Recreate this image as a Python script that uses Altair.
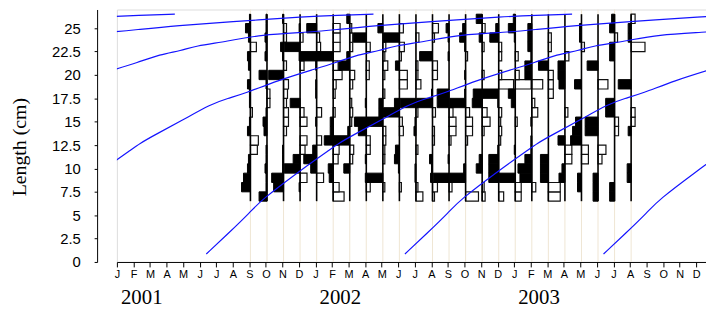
import altair as alt
import pandas as pd

# ---------------- data ----------------
MONTH_LETTERS = ["J", "F", "M", "A", "M", "J", "J", "A", "S", "O", "N", "D"]
YEARS = ["2001", "2002", "2003"]
YEAR_LABEL_POS = [1.5, 13.5, 25.5]          # month index (Jan 2001 = 0)
Y_TICKS = [0, 2.5, 5, 7.5, 10, 12.5, 15, 17.5, 20, 22.5, 25]

SAMPLE_DATES = [
    "2001-09-03", "2001-10-03", "2001-11-03", "2001-12-03",
    "2002-01-03", "2002-02-03", "2002-03-03", "2002-04-03",
    "2002-05-03", "2002-06-03", "2002-07-03", "2002-08-03",
    "2002-09-03", "2002-10-03", "2002-11-03", "2002-12-03",
    "2003-01-03", "2003-02-03", "2003-03-03", "2003-04-03",
    "2003-05-03", "2003-06-03", "2003-07-03", "2003-08-03",
]

# lower edges of the 1-cm length classes (bottom to top)
BIN_LOW = [6.5, 7.5, 8.5, 9.5, 10.5, 11.5, 12.5, 13.5, 14.5, 15.5,
           16.5, 17.5, 18.5, 19.5, 20.5, 21.5, 22.5, 23.5, 24.5, 25.5]

# restructured scores per sample (bottom class first); + = black peak, - = white trough
sep01 = [0, 9, 7, 3, 2, -7, -8, 3, 1, -2, 1, 1, 3, 0, 2, 3, -6, 2, 5, 1]
oct01 = [8, 1, 1, 2, 1, 1, 0, 3, 4, 1, -3, -3, 1, 8, 0, 2, 1, 2, 1, 1]
nov01 = [0, 10, 12, 1, 1, 1, 0, -3, -5, -5, -3, -4, -5, 15, -3, 1, 3, -3, -3, 1]
dec01 = [0, 1, -7, 16, 7, -5, -7, 0, -7, -4, 10, 0, 0, 0, -4, 1, 16, -3, 1, 0]
jan02 = [0, 0, -7, 6, 13, 4, -5, 0, 1, -5, 0, 1, 1, 0, 1, 17, -4, -3, 10, 0]
feb02 = [-11, -6, 4, 5, -5, -6, 9, 3, 3, -2, 0, -2, -3, -9, -5, 17, -7, -7, -7, 0]
mar02 = [0, 0, 0, 6, -3, -4, 16, 2, -2, -3, -2, 0, -3, -5, 11, 3, -3, -3, -2, 3]
apr02 = [0, -4, 1, 0, 1, -4, -4, 8, 12, 0, 1, 0, 0, -3, -3, 0, -4, 13, 0, 0]
may02 = [0, -2, 16, 0, -2, -2, -3, -3, 16, 4, 4, -2, 0, -2, -5, -2, -3, 0, 5, 0]
jun02 = [0, -2, 0, 1, 5, 4, 0, -4, -3, 16, 5, 0, -8, -8, 4, -2, -5, 16, -4, 0]
jul02 = [-7, -2, 1, 1, 0, -2, 0, 2, 1, -2, 16, 0, -5, -2, -2, 0, 0, -3, 0, 0]
aug02 = [-2, -5, 2, 1, 3, 0, -2, -2, 0, -3, 16, 1, 0, -5, -5, 13, 0, -2, -6, 0]
sep02 = [0, -3, 16, 0, 1, 0, -2, -7, -7, -4, 12, 12, 0, 0, 0, 1, 0, 1, 3, 0]
oct02 = [-13, 0, 16, 2, 0, 0, -2, -7, -7, -4, 16, 1, 0, 1, 0, -2, 1, 6, 3, 0]
nov02 = [-3, -2, 0, 6, 3, 0, 0, -2, -8, -5, 10, 9, 0, -2, 0, 0, -2, 3, -3, 6]
dec02 = [-5, 0, 10, 10, 10, 1, -2, -3, -2, -3, 1, 16, -15, -3, 0, -3, -3, 9, 3, 0]
jan03 = [-6, -6, 16, 0, 0, 1, 0, 0, -2, 0, 4, 7, -16, -4, 0, -3, 0, 1, 7, 2]
feb03 = [0, -4, 12, 14, 7, 1, 1, 0, 1, -6, -3, 0, -11, 7, 7, 1, 4, 4, 4, 0]
mar03 = [-12, -12, 8, 8, 8, 0, 0, 0, 0, 0, 0, -5, -5, -5, 10, 0, -3, -3, 0, 0]
apr03 = [0, 0, 6, 3, -7, -7, 7, 0, 0, -3, 0, 0, 6, 7, 7, -4, 0, 0, 0, 0]
may03 = [0, 4, 4, 0, -7, -7, 11, 9, 6, 0, 0, 0, 7, 0, 0, 0, -3, 2, 2, 0]
jun03 = [5, 5, 5, 0, -4, -8, 0, 13, 13, 0, 0, 0, -10, 0, 11, 0, 0, 0, 0, 0]
jul03 = [5, 5, 0, 0, 0, 0, 0, -4, -4, 9, 9, 0, 0, 0, 0, 5, 5, -3, 5, 3]
aug03 = [0, 0, 4, 4, 0, 0, 0, 3, -4, -4, 0, 0, 13, 0, 0, 0, -14, 3, 3, -4]

SCORES = [sep01, oct01, nov01, dec01, jan02, feb02, mar02, apr02,
          may02, jun02, jul02, aug02, sep02, oct02, nov02, dec02,
          jan03, feb03, mar03, apr03, may03, jun03, jul03, aug03]

# growth curve: age (months) -> length (cm)
CURVE_AGE = [0, 1.3, 2.7, 3.3, 5.7, 6.65, 7.3, 8.0, 8.9, 10.5, 12.3, 13.3, 14.3,
             16.3, 18.5, 19.8, 21.2, 22.5, 23.3, 25.3, 27.2, 30.5, 31.8, 34.3,
             37.3, 42.2, 43.8, 46.1]
CURVE_LEN = [0.85, 3.0, 5.4, 6.6, 9.8, 11.0, 11.8, 12.7, 13.6, 15.1, 16.9, 17.5,
             18.0, 19.4, 20.6, 21.3, 22.2, 22.6, 23.1, 23.6, 24.3, 24.6, 24.85,
             25.3, 25.66, 26.26, 26.37, 26.5]
# month index at which each cohort's curve starts (Jan 2001 = 0)
COHORT_START = [-42.6, -30.6, -18.6, -6.6, 5.4, 17.4, 29.4]

# ---------------- build tables ----------------
BAR_UNIT = 1 / 16.72   # score unit expressed in months of the time axis
X_MAX = 35.59
Y_MAX = 27


def month_index(s):
    d = pd.Timestamp(s)
    return (d.year - 2001) * 12 + (d.month - 1) + (d.day - 1) / 30.0


samples = pd.DataFrame({"date": SAMPLE_DATES})
samples["t"] = samples["date"].map(month_index)
samples["lo"] = BIN_LOW[0]
samples["hi"] = BIN_LOW[-1] + 1
samples["zero"] = 0
samples["top"] = Y_MAX

rows = []
for date, scores in zip(SAMPLE_DATES, SCORES):
    t = month_index(date)
    for low, v in zip(BIN_LOW, scores):
        if v == 0:
            continue
        if v > 0:
            rows.append({"x": t - v * BAR_UNIT, "x2": t, "y": low, "y2": low + 1, "kind": "peak"})
        else:
            rows.append({"x": t, "x2": t - v * BAR_UNIT, "y": low, "y2": low + 1, "kind": "trough"})
bars = pd.DataFrame(rows)

crows = []
for c, start in enumerate(COHORT_START):
    for a, L in zip(CURVE_AGE, CURVE_LEN):
        crows.append({"cohort": c, "t": start + a, "L": L})
curves = pd.DataFrame(crows)

years = pd.DataFrame({"year": YEARS, "t": YEAR_LABEL_POS})
ytitle = pd.DataFrame({"label": ["Length (cm)"]})

# ---------------- chart ----------------
label_array = "[" + ",".join("'" + m + "'" for m in MONTH_LETTERS) + "]"

x_scale = alt.Scale(domain=[0, X_MAX], nice=False, zero=False)
y_scale = alt.Scale(domain=[0, Y_MAX], nice=False)

x_axis = alt.Axis(values=list(range(36)), labelExpr=f"{label_array}[datum.value % 12]",
                  title=None, grid=False, tickSize=5, labelOverlap=False,
                  labelFontSize=11, labelPadding=2, labelFlush=False)
y_axis = alt.Axis(values=Y_TICKS, labelExpr="datum.value + ''", title=None, grid=False,
                  offset=20, tickSize=3, labelOverlap=False, labelFontSize=15,
                  labelPadding=14)

X = lambda f: alt.X(f, scale=x_scale, axis=x_axis)
Y = lambda f: alt.Y(f, scale=y_scale, axis=y_axis)

guides = alt.Chart(samples).mark_rule(color="#efe6d3", strokeWidth=1).encode(
    x=X("t:Q"), y=Y("zero:Q"), y2="top:Q")

troughs = alt.Chart(bars).transform_filter(alt.datum.kind == "trough").mark_rect(
    fill="white", stroke="#111111", strokeWidth=1.2).encode(
    x=X("x:Q"), x2="x2:Q", y=Y("y:Q"), y2="y2:Q")

peaks = alt.Chart(bars).transform_filter(alt.datum.kind == "peak").mark_rect(
    fill="black", stroke="black", strokeWidth=1).encode(
    x=X("x:Q"), x2="x2:Q", y=Y("y:Q"), y2="y2:Q")

baselines = alt.Chart(samples).mark_rule(color="black", strokeWidth=1.6).encode(
    x=X("t:Q"), y=Y("lo:Q"), y2="hi:Q")

growth = alt.Chart(curves).mark_line(color="#1414ff", strokeWidth=1.2, clip=True,
                                     interpolate="basis").encode(
    x=X("t:Q"), y=Y("L:Q"), detail="cohort:N", order="t:Q")

year_text = alt.Chart(years).mark_text(font="Liberation Serif", fontSize=21, color="black",
                                       baseline="alphabetic", align="center").encode(
    x=X("t:Q"), y=alt.value(297), text="year:N")

title_text = alt.Chart(ytitle).mark_text(font="Liberation Serif", fontSize=20, color="black",
                                         angle=270, baseline="middle", align="center").encode(
    x=alt.value(-98), y=alt.value(139), text="label:N")

chart = alt.layer(guides, troughs, peaks, baselines, growth, year_text, title_text).properties(
    width=595, height=255,
    padding={"left": 110, "top": 0, "right": 0, "bottom": 48},
    autosize=alt.AutoSizeParams(type="none"),
).configure_view(stroke=None).configure(background="white").configure_axis(
    labelOverlap=False, labelFont="Liberation Sans", labelColor="black",
    tickColor="black", domainColor="black", grid=False, labelFlush=False)

chart.save("out.html", embed_options={"renderer": "svg", "actions": False})
